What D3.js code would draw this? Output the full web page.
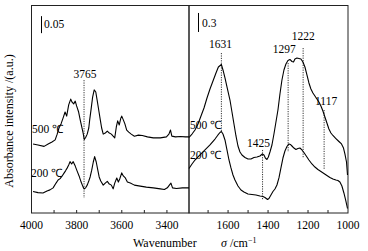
<!DOCTYPE html>
<html><head><meta charset="utf-8">
<script src="https://cdn.jsdelivr.net/npm/d3@7"></script>
<style>
html,body{margin:0;padding:0;background:#fff;}
svg text{font-family:"Liberation Serif","Times New Roman",Times,serif;fill:#000;}
</style></head>
<body>
<svg id="c" width="368" height="251"></svg>
<script>
// ---------- DATA ----------
// Left panel (O-H region), wavenumber in cm^-1, absorbance in a.u.
const leftWave500 = [3991,3969,3942,3924,3907,3893,3884,3876,3867,3858,3849,3842,3833,3824,3818,3811,3804,3798,3789,3782,3769,3764,3758,3751,3744,3740,3733,3727,3720,3713,3707,3700,3693,3687,3680,3671,3662,3653,3644,3636,3629,3622,3616,3609,3602,3598,3591,3584,3576,3567,3556,3542,3524,3507,3484,3458,3427,3400,3389,3382,3376,3360,3338,3316,3300];
const leftAbs500  = [0.203,0.200,0.196,0.203,0.209,0.215,0.232,0.250,0.262,0.279,0.297,0.285,0.318,0.335,0.326,0.321,0.329,0.315,0.297,0.274,0.235,0.216,0.222,0.232,0.250,0.274,0.309,0.341,0.362,0.356,0.332,0.303,0.274,0.250,0.232,0.235,0.241,0.235,0.232,0.226,0.221,0.253,0.271,0.259,0.279,0.285,0.274,0.262,0.244,0.238,0.232,0.226,0.229,0.228,0.224,0.221,0.221,0.224,0.232,0.244,0.226,0.224,0.225,0.224,0.224];
const leftWave200 = [3991,3969,3947,3929,3916,3902,3889,3880,3871,3862,3853,3847,3840,3833,3827,3820,3813,3804,3796,3787,3778,3769,3764,3758,3751,3744,3738,3731,3724,3718,3711,3704,3698,3691,3680,3671,3662,3653,3644,3636,3629,3620,3613,3607,3598,3591,3582,3573,3560,3542,3516,3489,3458,3427,3409,3396,3387,3380,3373,3356,3329,3300];
const leftAbs200  = [0.063,0.060,0.059,0.065,0.068,0.074,0.088,0.097,0.101,0.109,0.118,0.124,0.132,0.141,0.151,0.144,0.151,0.138,0.124,0.109,0.091,0.076,0.071,0.074,0.082,0.094,0.106,0.126,0.150,0.166,0.150,0.126,0.106,0.094,0.082,0.088,0.093,0.085,0.082,0.071,0.088,0.103,0.091,0.100,0.118,0.109,0.103,0.091,0.088,0.082,0.079,0.076,0.074,0.071,0.069,0.074,0.082,0.088,0.074,0.072,0.074,0.074];

// Right panel (carbonate / lattice region)
const rightWave500 = [1793,1778,1763,1748,1733,1718,1703,1688,1673,1658,1646,1631,1623,1613,1603,1588,1578,1568,1558,1548,1538,1528,1513,1498,1483,1468,1453,1438,1426,1418,1411,1403,1396,1388,1378,1368,1358,1348,1338,1328,1318,1308,1298,1288,1278,1270,1263,1253,1243,1233,1223,1213,1203,1193,1183,1173,1163,1153,1143,1133,1123,1113,1103,1093,1083,1073,1058,1043,1030,1020,1013,1005,1000];
const rightAbs500  = [1.192,1.247,1.311,1.405,1.532,1.658,1.816,1.958,2.084,2.211,2.305,2.345,2.258,2.132,1.990,1.784,1.595,1.405,1.216,1.058,0.963,0.916,0.876,0.853,0.853,0.876,0.884,0.900,0.932,0.916,0.868,0.845,0.884,0.963,1.074,1.247,1.437,1.626,1.879,2.100,2.258,2.353,2.408,2.424,2.392,2.384,2.432,2.447,2.440,2.432,2.384,2.305,2.179,2.053,1.958,1.895,1.847,1.800,1.753,1.690,1.611,1.516,1.421,1.326,1.263,1.224,1.176,1.129,1.090,1.026,0.932,0.805,0.600];
const rightWave200 = [1793,1778,1763,1738,1713,1688,1663,1648,1638,1631,1623,1613,1603,1593,1583,1573,1563,1548,1533,1518,1498,1478,1458,1438,1423,1413,1400,1393,1383,1373,1363,1353,1343,1333,1323,1313,1303,1293,1286,1278,1268,1258,1248,1238,1228,1218,1208,1193,1178,1163,1148,1133,1118,1103,1088,1073,1058,1048,1038,1028,1018,1008,1000];
const rightAbs200  = [0.703,0.774,0.837,0.916,0.995,1.074,1.168,1.232,1.271,1.287,1.247,1.153,0.995,0.837,0.711,0.600,0.521,0.426,0.363,0.332,0.300,0.292,0.284,0.268,0.261,0.245,0.213,0.229,0.284,0.339,0.379,0.442,0.553,0.711,0.868,0.979,1.050,1.090,1.082,1.058,1.026,1.003,1.018,1.026,0.995,0.955,0.908,0.837,0.774,0.726,0.687,0.655,0.624,0.592,0.561,0.537,0.521,0.513,0.489,0.426,0.316,0.189,0.071];

const leftTickLabels  = [4000,3800,3600,3400];
const leftMinorTicks  = [3900,3800,3700,3600,3500,3400];
const rightTickLabels = [1600,1400,1200,1000];
const rightMinorTicks = [1700,1600,1500,1400,1300,1200,1100];

const peakLeft   = [3765];
const peakRight  = [1631,1297,1222,1117,1425];
const seriesNames = ["500 ℃","200 ℃"];
const scaleBarValues = [0.05, 0.3];

// ---------- LAYOUT ----------
const FONT = "'Liberation Serif', 'Times New Roman', Times, serif";
const svg = d3.select("#c");
const plotTop = 5, plotBottom = 213;
const xL = d3.scaleLinear().domain([4000,3300]).range([31,189]);
const xR = d3.scaleLinear().domain([1793,1000]).range([189,347.5]);
const yL = d3.scaleLinear().domain([0,0.6118]).range([plotBottom,plotTop]);
const yR = d3.scaleLinear().domain([0,3.284]).range([plotBottom,plotTop]);

// frames
svg.append("rect").attr("x",31.5).attr("y",5.5).attr("width",157.5).attr("height",207.5)
  .attr("fill","none").attr("stroke","#222").attr("stroke-width",1);
svg.append("rect").attr("x",189).attr("y",5.5).attr("width",159).attr("height",207.5)
  .attr("fill","none").attr("stroke","#222").attr("stroke-width",1);

// axes
function axes(x, minor, labels){
  const gm = svg.append("g").attr("transform",`translate(0,${plotBottom})`)
    .call(d3.axisBottom(x).tickValues(minor).tickSize(-3).tickFormat(""));
  gm.select(".domain").remove();
  gm.selectAll("line").attr("stroke","#222");
  const gl = svg.append("g").attr("transform",`translate(0,${plotBottom})`)
    .call(d3.axisBottom(x).tickValues(labels).tickSize(0).tickPadding(8).tickFormat(d3.format("d")));
  gl.attr("font-family",FONT);
  gl.select(".domain").remove();
  gl.selectAll("text").attr("font-size",11.5).attr("font-family",FONT).attr("fill","#000");
}
axes(xL, leftMinorTicks, leftTickLabels);
axes(xR, rightMinorTicks, rightTickLabels);

// curves
const line = (x,y) => d3.line().x(d=>x(d[0])).y(d=>y(d[1]));
const zip = (a,b) => a.map((v,i)=>[v,b[i]]);
const curves = [
  [xL,yL,zip(leftWave500,leftAbs500)],
  [xL,yL,zip(leftWave200,leftAbs200)],
  [xR,yR,zip(rightWave500,rightAbs500)],
  [xR,yR,zip(rightWave200,rightAbs200)]
];
curves.forEach(([x,y,d])=>{
  svg.append("path").datum(d).attr("d",line(x,y)).attr("fill","none")
    .attr("stroke","#000").attr("stroke-width",1.1).attr("stroke-linejoin","round");
});

// peak markers: [wavenumber, top abs, bottom abs, label dx, label dy]
const annL = [[peakLeft[0],0.391,0.044,1,-2]];
const annR = [
  [peakRight[0],2.526,1.295,-1,-5],
  [peakRight[1],2.368,0.963,-4,-10],
  [peakRight[2],2.605,0.868,0,-8],
  [peakRight[3],1.626,0.679,2,-5],
  [peakRight[4],0.995,0.205,-4,-3]
];
function drawAnn(arr,x,y){
  arr.forEach(([w,a1,a2,dx,dy])=>{
    svg.append("line").attr("x1",x(w)).attr("x2",x(w)).attr("y1",y(a1)).attr("y2",y(a2))
      .attr("stroke","#000").attr("stroke-width",0.8).attr("stroke-dasharray","1.2,1.2");
    svg.append("text").attr("x",x(w)+dx).attr("y",y(a1)+dy).attr("text-anchor","middle")
      .attr("font-family",FONT).attr("font-size",11.5).text(w);
  });
}
drawAnn(annL,xL,yL);
drawAnn(annR,xR,yR);

// series labels
const lab = (x,y,t)=>svg.append("text").attr("x",x).attr("y",y).attr("font-family",FONT).attr("font-size",11.5).text(t);
lab(32,133,seriesNames[0]);
lab(31,177,seriesNames[1]);
lab(190,129,seriesNames[0]);
lab(190,159,seriesNames[1]);

// scale bars
svg.append("line").attr("x1",41.5).attr("x2",41.5).attr("y1",yL(0.579)).attr("y2",yL(0.579-scaleBarValues[0]))
  .attr("stroke","#000").attr("stroke-width",1);
svg.append("text").attr("x",44).attr("y",27.5).attr("font-family",FONT).attr("font-size",11.5).text(scaleBarValues[0]);
svg.append("line").attr("x1",198.5).attr("x2",198.5).attr("y1",yR(3.158)).attr("y2",yR(3.158-scaleBarValues[1]))
  .attr("stroke","#000").attr("stroke-width",1);
svg.append("text").attr("x",202).attr("y",27).attr("font-family",FONT).attr("font-size",11.5).text(scaleBarValues[1]);

// axis titles
const xt = svg.append("text").attr("x",133).attr("y",247).attr("font-family",FONT).attr("font-size",12);
xt.append("tspan").text("Wavenumber");
xt.append("tspan").attr("x",221).attr("font-style","italic").text("σ");
xt.append("tspan").text(" /cm");
xt.append("tspan").attr("dy",-4).attr("font-size",8).text("−1");

svg.append("text").attr("transform","translate(13,121) rotate(-90)").attr("text-anchor","middle")
  .attr("font-family",FONT).attr("font-size",12).text("Absorbance intensity /(a.u.)");
</script>
</body></html>
